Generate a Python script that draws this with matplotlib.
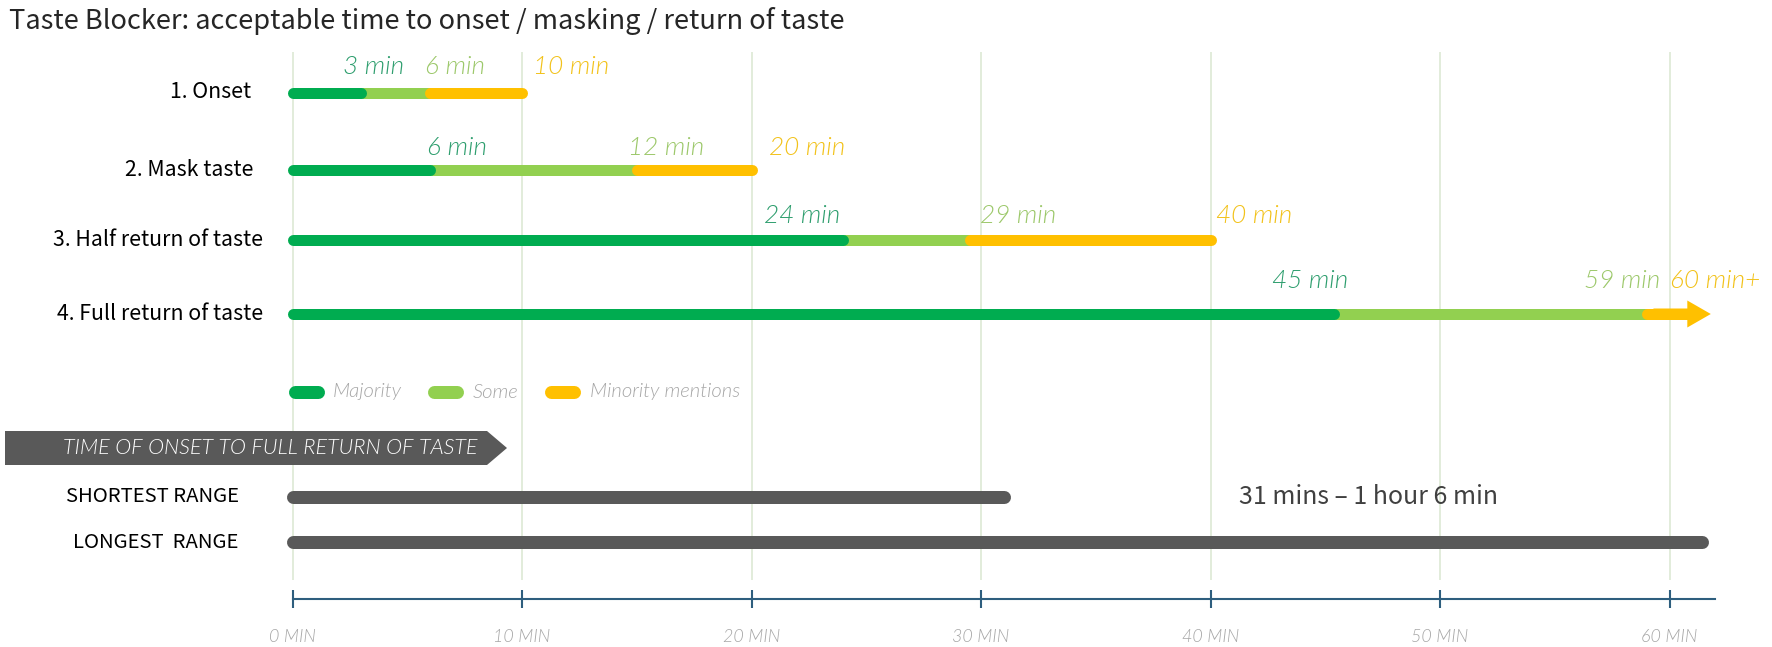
import matplotlib
matplotlib.use("Agg")
import matplotlib.pyplot as plt
from matplotlib.patches import Polygon, FancyArrow

# ---------------- data ----------------
ROWS = ["1. Onset", "2. Mask taste", "3. Half return of taste", "4. Full return of taste"]
MAJORITY_END = [3, 6, 24, 45.4]
SOME_END = [6, 15, 29.5, 59]
MINORITY_END = [10, 20, 40, 61.8]
MAJ_LABELS = ["3 min", "6 min", "24 min", "45 min"]
SOME_LABELS = ["6 min", "12 min", "29 min", "59 min"]
MIN_LABELS = ["10 min", "20 min", "40 min", "60 min+"]
SERIES = ["Majority", "Some", "Minority mentions"]
BANNER_TEXT = "TIME OF ONSET TO FULL RETURN OF TASTE"
RANGE_NAMES = ["SHORTEST RANGE", "LONGEST  RANGE"]
RANGE_END = [31, 61.4]
RANGE_NOTE = "31 mins \u2013 1 hour 6 min"
TICKS = [0, 10, 20, 30, 40, 50, 60]
TICK_LABELS = ["0 MIN", "10 MIN", "20 MIN", "30 MIN", "40 MIN", "50 MIN", "60 MIN"]
AXIS_END = 62.0
TITLE = "Taste Blocker: acceptable time to onset / masking / return of taste"

# ---------------- style / layout ----------------
C_MAJ, C_SOME, C_MIN = "#00AC50", "#92D050", "#FFC000"
T_MAJ, T_SOME, T_MIN = "#2E9E6E", "#9CC86A", "#F2C21A"
GREY = "#595959"
W, H, DPI = 1772, 647, 100
X0, PPM = 292.5, 22.95          # pixel of 0 min, pixels per minute
ROW_Y = [92.5, 169.5, 240, 314]
ROW_LABEL_RIGHT = [251, 253, 263, 263]
LABEL_Y = [66.5, 148, 216, 281]
LABEL_LEFT = [[343, 425, 533], [427, 628, 769], [764, 980, 1216], [1272, 1584, 1670]]
LEG_Y = 392
LEG_PILL = [(288, 324), (427, 463), (544, 580)]
LEG_TEXT_X = [333, 473, 590]
RANGE_Y = [497, 542]
AXIS_Y = 599

NARROW = ["Noto Sans CJK SC", "Lato", "DejaVu Sans"]
FONT = ["Lato", "DejaVu Sans"]
plt.rcParams["font.family"] = FONT

fig = plt.figure(figsize=(W / DPI, H / DPI), dpi=DPI)
ax = fig.add_axes([0, 0, 1, 1])


def m(px):
    return (px - X0) / PPM


ax.set_xlim(m(0), m(W))
ax.set_ylim(H, 0)
ax.axis("off")
renderer = fig.canvas.get_renderer()
PT = 72.0 / DPI  # points per pixel


def fit(t, target_w):
    for _ in range(3):
        bb = t.get_window_extent(renderer)
        t.set_fontsize(t.get_fontsize() * target_w / bb.width)
    return t.get_fontsize()


# gridlines
ax.vlines(TICKS, 52, 580, color="#DFEBD8", lw=1.3, zorder=0)

# title
t = ax.text(m(9), 21, TITLE, ha="left", va="center", color="#262626", fontsize=18, family=NARROW)
fit(t, 836)

# row labels
t0 = ax.text(m(ROW_LABEL_RIGHT[2]), ROW_Y[2], ROWS[2], ha="right", va="center", fontsize=16,
             color="black", family=NARROW)
fs_row = fit(t0, 210)
for i, name in enumerate(ROWS):
    if i == 2:
        continue
    ax.text(m(ROW_LABEL_RIGHT[i]), ROW_Y[i], name, ha="right", va="center", fontsize=fs_row,
            color="black", family=NARROW)

# bars
LW = 11 * PT
for i in range(len(ROWS)):
    y = ROW_Y[i]
    ax.plot([MAJORITY_END[i], SOME_END[i]], [y, y], color=C_SOME, lw=LW, solid_capstyle="round", zorder=2)
    ax.plot([0, MAJORITY_END[i]], [y, y], color=C_MAJ, lw=LW, solid_capstyle="round", zorder=3)
    if i < len(ROWS) - 1:
        ax.plot([SOME_END[i], MINORITY_END[i]], [y, y], color=C_MIN, lw=LW, solid_capstyle="round", zorder=3)
    else:
        head_len = m(X0 + 23.5)
        ax.plot([SOME_END[i], MINORITY_END[i] - head_len], [y, y], color=C_MIN, lw=LW,
                solid_capstyle="round", zorder=3)
        ax.add_patch(FancyArrow(SOME_END[i] + 0.3, y, MINORITY_END[i] - SOME_END[i] - 0.3, 0,
                                width=11, head_width=27, head_length=head_len,
                                length_includes_head=True, color=C_MIN, lw=0, zorder=3))

# value labels
tv = ax.text(m(LABEL_LEFT[2][0]), LABEL_Y[2], MAJ_LABELS[2], ha="left", va="center",
             fontsize=14, style="italic", weight=300, color=T_MAJ)
fs_val = fit(tv, 76)
for i in range(len(ROWS)):
    for j, (labs, col) in enumerate([(MAJ_LABELS, T_MAJ), (SOME_LABELS, T_SOME), (MIN_LABELS, T_MIN)]):
        if i == 2 and j == 0:
            continue
        ax.text(m(LABEL_LEFT[i][j]), LABEL_Y[i], labs[i], ha="left", va="center",
                fontsize=fs_val, style="italic", weight=300, color=col)

# legend
fs_leg = None
for k, (name, col) in enumerate(zip(SERIES, [C_MAJ, C_SOME, C_MIN])):
    a, b = LEG_PILL[k]
    ax.plot([m(a + 6.5), m(b - 6.5)], [LEG_Y, LEG_Y], color=col, lw=13 * PT, solid_capstyle="round")
    tl = ax.text(m(LEG_TEXT_X[k]), LEG_Y, name, ha="left", va="center", style="italic", weight=300,
                 color="#A6A6A6", fontsize=fs_leg or 11)
    if fs_leg is None:
        fs_leg = fit(tl, 69)

# banner
bx = [5, 487, 507, 487, 5]
by = [431, 431, 448, 465, 465]
ax.add_patch(Polygon(list(zip([m(v) for v in bx], by)), closed=True, color=GREY, lw=0))
tb = ax.text(m(63), 448, BANNER_TEXT, ha="left", va="center", style="italic", weight=300,
             color="white", fontsize=14)
fit(tb, 415)

# ranges
tr = ax.text(m(239), RANGE_Y[0], RANGE_NAMES[0], ha="right", va="center", color="black",
             fontsize=13, family=NARROW)
fs_rng = fit(tr, 173)
ax.text(m(238), RANGE_Y[1], RANGE_NAMES[1], ha="right", va="center", color="black",
        fontsize=fs_rng, family=NARROW)
for k in range(len(RANGE_NAMES)):
    ax.plot([0, RANGE_END[k]], [RANGE_Y[k], RANGE_Y[k]], color=GREY, lw=13 * PT, solid_capstyle="round")
tn = ax.text(m(1239), RANGE_Y[0], RANGE_NOTE, ha="left", va="center", color="#404040",
             fontsize=16, family=NARROW)
fit(tn, 259)

# axis
AX_C = "#2E5E7E"
ax.plot([0, AXIS_END], [AXIS_Y, AXIS_Y], color=AX_C, lw=1.5)
ax.vlines(TICKS, AXIS_Y - 9, AXIS_Y + 9, color=AX_C, lw=1.5)
tt = ax.text(TICKS[1], 637, TICK_LABELS[1], ha="center", va="center", style="italic", weight=300,
             color="#A6A6A6", fontsize=11)
fs_tick = fit(tt, 57)
for k, lab in enumerate(TICK_LABELS):
    if k == 1:
        continue
    ax.text(TICKS[k], 637, lab, ha="center", va="center", style="italic", weight=300,
            color="#A6A6A6", fontsize=fs_tick)

fig.savefig("out.png", dpi=DPI, facecolor="white")
